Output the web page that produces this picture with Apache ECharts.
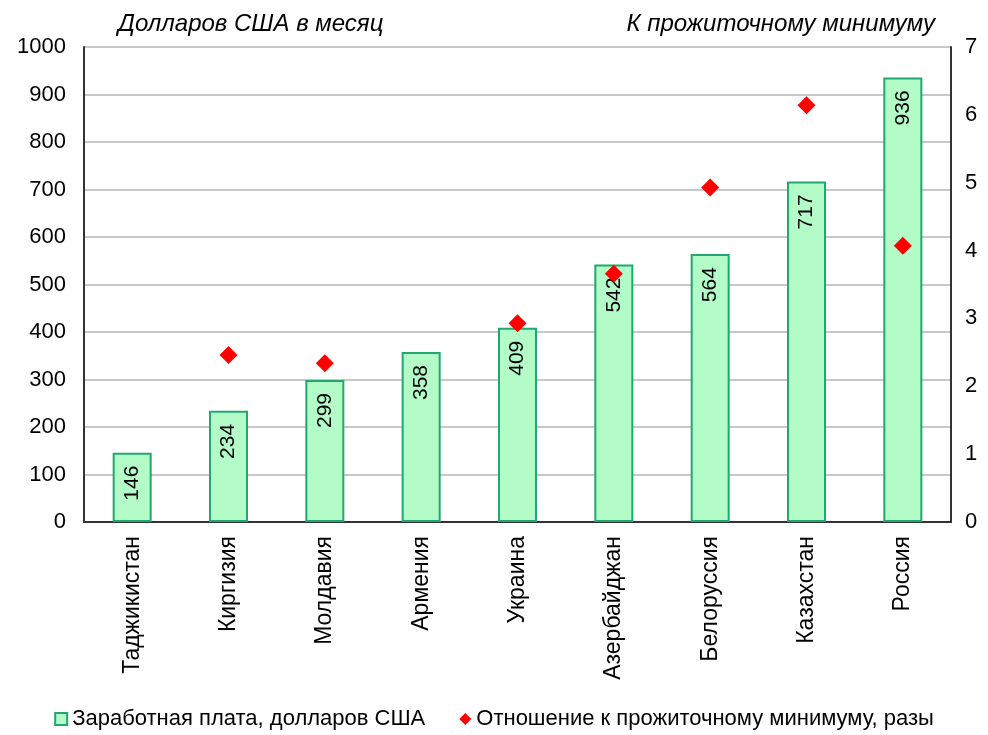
<!DOCTYPE html>
<html>
<head>
<meta charset="utf-8">
<script src="https://cdn.jsdelivr.net/npm/echarts@6/dist/echarts.min.js"></script>
<style>
  html, body { margin: 0; padding: 0; background: #fff; }
  #chart { width: 988px; height: 735px; }
</style>
</head>
<body>
<div id="chart"></div>
<script>
// данные
const countries = ['Таджикистан', 'Киргизия', 'Молдавия', 'Армения', 'Украина',
  'Азербайджан', 'Белоруссия', 'Казахстан', 'Россия']
const salary = [146, 234, 299, 358, 409, 542, 564, 717, 936]
// отношение к прожиточному минимуму (Таджикистан и Армения без точки)
const ratio = [null, 2.46, 2.34, null, 2.93, 3.66, 4.93, 6.14, 4.07]

const salaryName = 'Заработная плата, долларов США'
const ratioName = 'Отношение к прожиточному минимуму, разы'

const font = 'Liberation Sans, Arial, sans-serif'

let myChart = echarts.init(document.getElementById('chart'), null, { renderer: 'canvas' })

let option = {
  animation: false,
  textStyle: { fontFamily: font },
  graphic: [
    {
      type: 'text', left: 118, top: 12,
      style: { text: 'Долларов США в месяц', font: 'italic 24px ' + font, fill: '#000' }
    },
    {
      type: 'text', right: 53, top: 12,
      style: { text: 'К прожиточному минимуму', font: 'italic 24px ' + font, fill: '#000' }
    }
  ],
  grid: { left: 84, right: 37, top: 47, bottom: 213 },
  legend: {
    bottom: 0,
    left: 'center',
    itemGap: 34,
    itemWidth: 12,
    itemHeight: 12,
    textStyle: { fontSize: 22, color: '#000', fontFamily: font },
    data: [
      { name: salaryName, icon: 'rect' },
      { name: ratioName, icon: 'diamond', itemStyle: { color: '#ff0000', opacity: 1 } }
    ]
  },
  xAxis: {
    type: 'category',
    data: countries,
    axisLine: { show: true, lineStyle: { color: '#333', width: 2 } },
    axisTick: { show: false },
    axisLabel: { rotate: 90, fontSize: 23, color: '#000', margin: 14, interval: 0 }
  },
  yAxis: [
    {
      type: 'value', min: 0, max: 1000, interval: 100,
      axisLine: { show: true, lineStyle: { color: '#333', width: 2 } },
      axisTick: { show: false },
      axisLabel: { fontSize: 22, color: '#000', margin: 18, formatter: v => String(v) },
      splitLine: { lineStyle: { color: '#c8c8c8', width: 2 } }
    },
    {
      type: 'value', min: 0, max: 7, interval: 1,
      axisLine: { show: true, lineStyle: { color: '#333', width: 2 } },
      axisTick: { show: false },
      axisLabel: { fontSize: 22, color: '#000', margin: 14 },
      splitLine: { show: false }
    }
  ],
  series: [
    {
      name: salaryName,
      type: 'bar',
      data: salary,
      barWidth: 39,
      itemStyle: { color: '#b3fcc8', borderColor: '#20a870', borderWidth: 2 },
      label: {
        show: true,
        position: 'insideTop',
        rotate: 90,
        align: 'right',
        verticalAlign: 'middle',
        distance: 13,
        fontSize: 21,
        color: '#000'
      }
    },
    {
      name: ratioName,
      type: 'scatter',
      yAxisIndex: 1,
      data: ratio,
      symbol: 'diamond',
      symbolSize: 18,
      itemStyle: { color: '#ff0000', opacity: 1 },
      z: 5
    }
  ]
}

myChart.setOption(option)
window.addEventListener('resize', myChart.resize)
</script>
</body>
</html>
